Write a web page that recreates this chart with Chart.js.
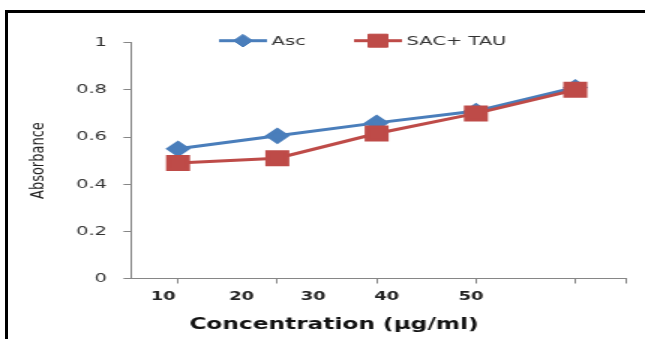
<!DOCTYPE html>
<html>
<head>
<meta charset="utf-8">
<script src="https://cdn.jsdelivr.net/npm/chart.js@4.4.1/dist/chart.umd.min.js"></script>
<style>
  html, body { margin: 0; padding: 0; background: #fff; }
  body { width: 645px; height: 339px; overflow: hidden; position: relative; }
  /* the source picture is stretched sideways, so draw narrow and widen */
  #wrap { position: absolute; left: 0; top: 0; width: 430px; height: 339px; transform: scaleX(1.5); transform-origin: 0 0; }
  #frame { position: absolute; left: 5px; top: 10px; right: 0; bottom: 0; border-left: 3px solid #000; border-top: 3px solid #000; pointer-events: none; }
</style>
</head>
<body>
<div id="wrap"><canvas id="chart" width="430" height="339"></canvas></div>
<div id="frame"></div>
<script>
const concentrations = ['10', '20', '30', '40', '50']
// where the concentration labels sit on the x scale (they are not under the points)
const labelPositions = [0.85, 1.64, 2.36, 3.10, 3.95]
const asc = [0.55, 0.605, 0.66, 0.71, 0.81]
const sacTau = [0.49, 0.51, 0.615, 0.70, 0.80]

const xMin = 0.526
const xMax = 5.51
const gray = '#868686'
const font = 'DejaVu Sans'

const toPoints = (arr) => arr.map((v, i) => ({ x: i + 1, y: v }))

// excel style legend: line with the marker on it
const lineLegend = {
  id: 'lineLegend',
  afterDraw(chart) {
    const ctx = chart.ctx
    const y = 40.7
    const starts = [146, 236]
    ctx.save()
    chart.data.datasets.forEach((ds, i) => {
      const x0 = starts[i]
      const x1 = x0 + 32
      ctx.strokeStyle = ds.borderColor
      ctx.lineWidth = 3
      ctx.beginPath()
      ctx.moveTo(x0, y)
      ctx.lineTo(x1, y)
      ctx.stroke()
      ctx.fillStyle = ds.pointBackgroundColor
      ctx.strokeStyle = ds.pointBorderColor
      ctx.lineWidth = 1
      Chart.helpers.drawPoint(ctx, { pointStyle: ds.pointStyle, radius: ds.pointRadius, borderWidth: 1, rotation: 0 }, (x0 + x1) / 2, y)
      ctx.fillStyle = '#333'
      ctx.font = '13px "' + font + '"'
      ctx.textBaseline = 'middle'
      ctx.textAlign = 'left'
      ctx.fillText(ds.label, x1 + 3, y + 0.5)
    })
    ctx.restore()
  }
}

new Chart(document.getElementById('chart'), {
  type: 'line',
  plugins: [lineLegend],
  data: {
    datasets: [
      {
        label: 'Asc',
        data: toPoints(asc),
        borderColor: '#4a7ebb',
        backgroundColor: '#4a7ebb',
        pointBackgroundColor: '#4a7ebb',
        pointBorderColor: '#4a7ebb',
        pointStyle: 'rectRot',
        pointRadius: 6.3,
        borderWidth: 3,
        order: 1,
      },
      {
        label: 'SAC+ TAU',
        data: toPoints(sacTau),
        borderColor: '#be4b48',
        backgroundColor: '#be4b48',
        pointBackgroundColor: '#be4b48',
        pointBorderColor: '#be4b48',
        pointStyle: 'rect',
        pointRadius: 9.2,
        borderWidth: 3,
        order: 0,
      },
    ]
  },
  options: {
    responsive: false,
    animation: false,
    layout: { padding: { left: 28, right: 12.7, top: 42.7, bottom: 0 } },
    plugins: {
      legend: { display: false },
      tooltip: { enabled: false },
      title: {
        display: true,
        position: 'bottom',
        text: 'Concentration (µg/ml)',
        color: '#111',
        font: { family: font, size: 15.5, weight: 'bold' },
        padding: { top: 0, bottom: 4.5 },
      },
    },
    scales: {
      x: {
        type: 'linear',
        position: 'bottom',
        min: xMin,
        max: xMax,
        afterBuildTicks: (s) => { s.ticks = asc.map((_, i) => ({ value: i + 1 })).concat([{ value: xMax }]) },
        ticks: { display: false },
        grid: { drawOnChartArea: false, tickLength: 5, color: gray },
        border: { color: gray },
        afterFit: (s) => { s.height = 5 },
      },
      x2: {
        type: 'linear',
        position: 'bottom',
        weight: 1,
        min: xMin,
        max: xMax,
        afterBuildTicks: (s) => { s.ticks = labelPositions.map(v => ({ value: v })) },
        ticks: {
          autoSkip: false,
          maxRotation: 0,
          padding: 6,
          color: '#222',
          font: { family: font, size: 12, weight: 'bold' },
          callback: (v, i) => concentrations[i],
        },
        grid: { display: false, drawTicks: false },
        border: { display: false },
        afterFit: (s) => { s.height = 32.4 },
      },
      y: {
        min: 0,
        max: 1,
        ticks: {
          stepSize: 0.2,
          padding: 11,
          color: '#333',
          font: { family: font, size: 13 },
          callback: (v) => String(+v.toFixed(1)),
        },
        grid: { drawOnChartArea: false, tickLength: 5, color: gray },
        border: { color: gray },
        title: {
          display: true,
          text: 'Absorbance',
          color: '#222',
          font: { family: font, size: 13 },
          padding: { top: -10.5, bottom: 0 },
        },
        afterFit: (s) => { s.width = 59.3 },
      },
    }
  }
})
</script>
</body>
</html>
